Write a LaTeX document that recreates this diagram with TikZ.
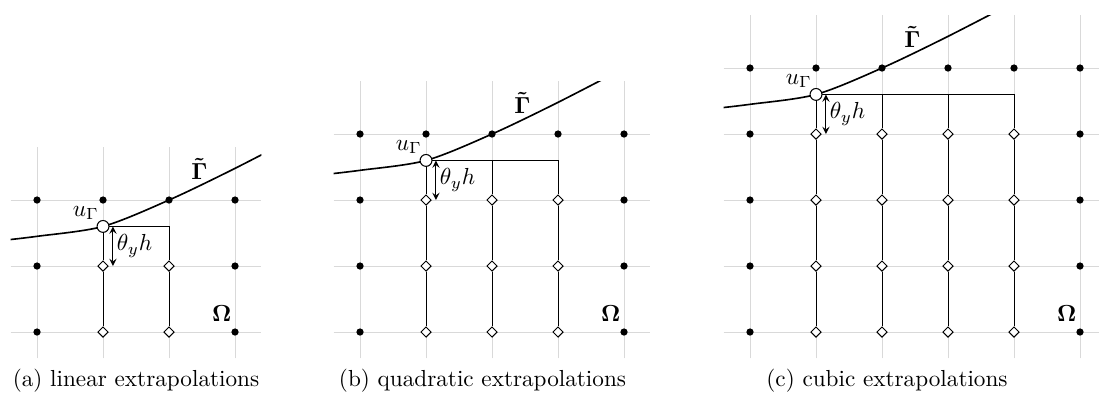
\documentclass[tikz,border=0pt]{standalone}
\usepackage{amsmath}
\usetikzlibrary{shapes.geometric}

\tikzset{
    gridline/.style={gray!30, line width=0.4pt},
    iface/.style={line width=0.7pt},
    conn/.style={line width=0.4pt},
    dot/.style={circle, fill=black, inner sep=0pt, minimum size=0.11cm},
    diam/.style={diamond, draw, fill=white, inner sep=0pt, minimum size=0.16cm, line width=0.4pt},
    bnd/.style={circle, draw, fill=white, inner sep=0pt, minimum size=0.18cm, line width=0.45pt},
}

\begin{document}
\begin{tikzpicture}[>=stealth]
    \useasboundingbox (0,0) rectangle (16.652,6.076);

    \foreach \k/\ox/\cx/\capt in {1/0.561/1.5/{(a) linear extrapolations},
                                   2/5.455/1.856/{(b) quadratic extrapolations},
                                   3/11.364/2.076/{(c) cubic extrapolations}}{
    \pgfmathtruncatemacro\tr{\k+1}
    \pgfmathtruncatemacro\nc{\k+2}
    \begin{scope}[shift={(\ox,1.045)}]
        \draw[gridline, step=1] (-0.4,-0.4) grid (\nc+0.4,\tr+0.8);

        % interface, cut to the grid
        \begin{scope}
            \clip (-0.4,-0.4) rectangle (\nc+0.4,\tr+0.8);
            \draw[iface, yshift=\tr cm] plot[smooth] coordinates
                {(-0.6,-0.62) (0,-0.55) (1,-0.4) (2,0) (3,0.48) (4.2,1.1)};
        \end{scope}

        % grid points
        \foreach \i in {0,...,\nc} \node[dot] (p\i\tr) at (\i,\tr) {};
        \foreach \j in {0,...,\k} {
            \node[dot] (p0\j) at (0,\j) {};
            \node[dot] (p\nc\j) at (\nc,\j) {};
        }
        \foreach \i in {1,...,\tr} \foreach \j in {0,...,\k}
            \node[diam] (d\i\j) at (\i,\j) {};
        \node[bnd] (u) at (1,\tr-0.4) {};

        % extrapolation lines
        \coordinate (h) at (\tr,\tr-0.4);
        \draw[conn] (u) -- (h);
        \draw[conn] (u) -- (d1\k);
        \foreach \i in {2,...,\tr} \draw[conn] (u -| d\i\k) -- (d\i\k);
        \foreach \i in {1,...,\tr} \foreach \j [count=\jm from 0] in {1,...,\k}
            \draw[conn] (d\i\j) -- (d\i\jm);

        \coordinate (ta) at ([xshift=0.15cm]u.center);
        \coordinate (tb) at ([xshift=0.15cm]d1\k.center);
        \draw[<->, line width=0.4pt] (ta) -- (tb)
            node[midway, right, inner sep=1.5pt] (th) {\(\theta_y h\)};

        \node[inner sep=1pt] (lu) at (0.74,\tr-0.2) {\(u_\Gamma\)};
        \node[inner sep=0.5pt] (lg) at (2.46,\tr+0.47) {\(\boldsymbol{\tilde{\Gamma}}\)};
        \node (lo) at (\nc-0.2,0.28) {\(\boldsymbol{\Omega}\)};
        \node (cap) at (\cx,-0.73) {\capt};
    \end{scope}
    }
\end{tikzpicture}
\end{document}
